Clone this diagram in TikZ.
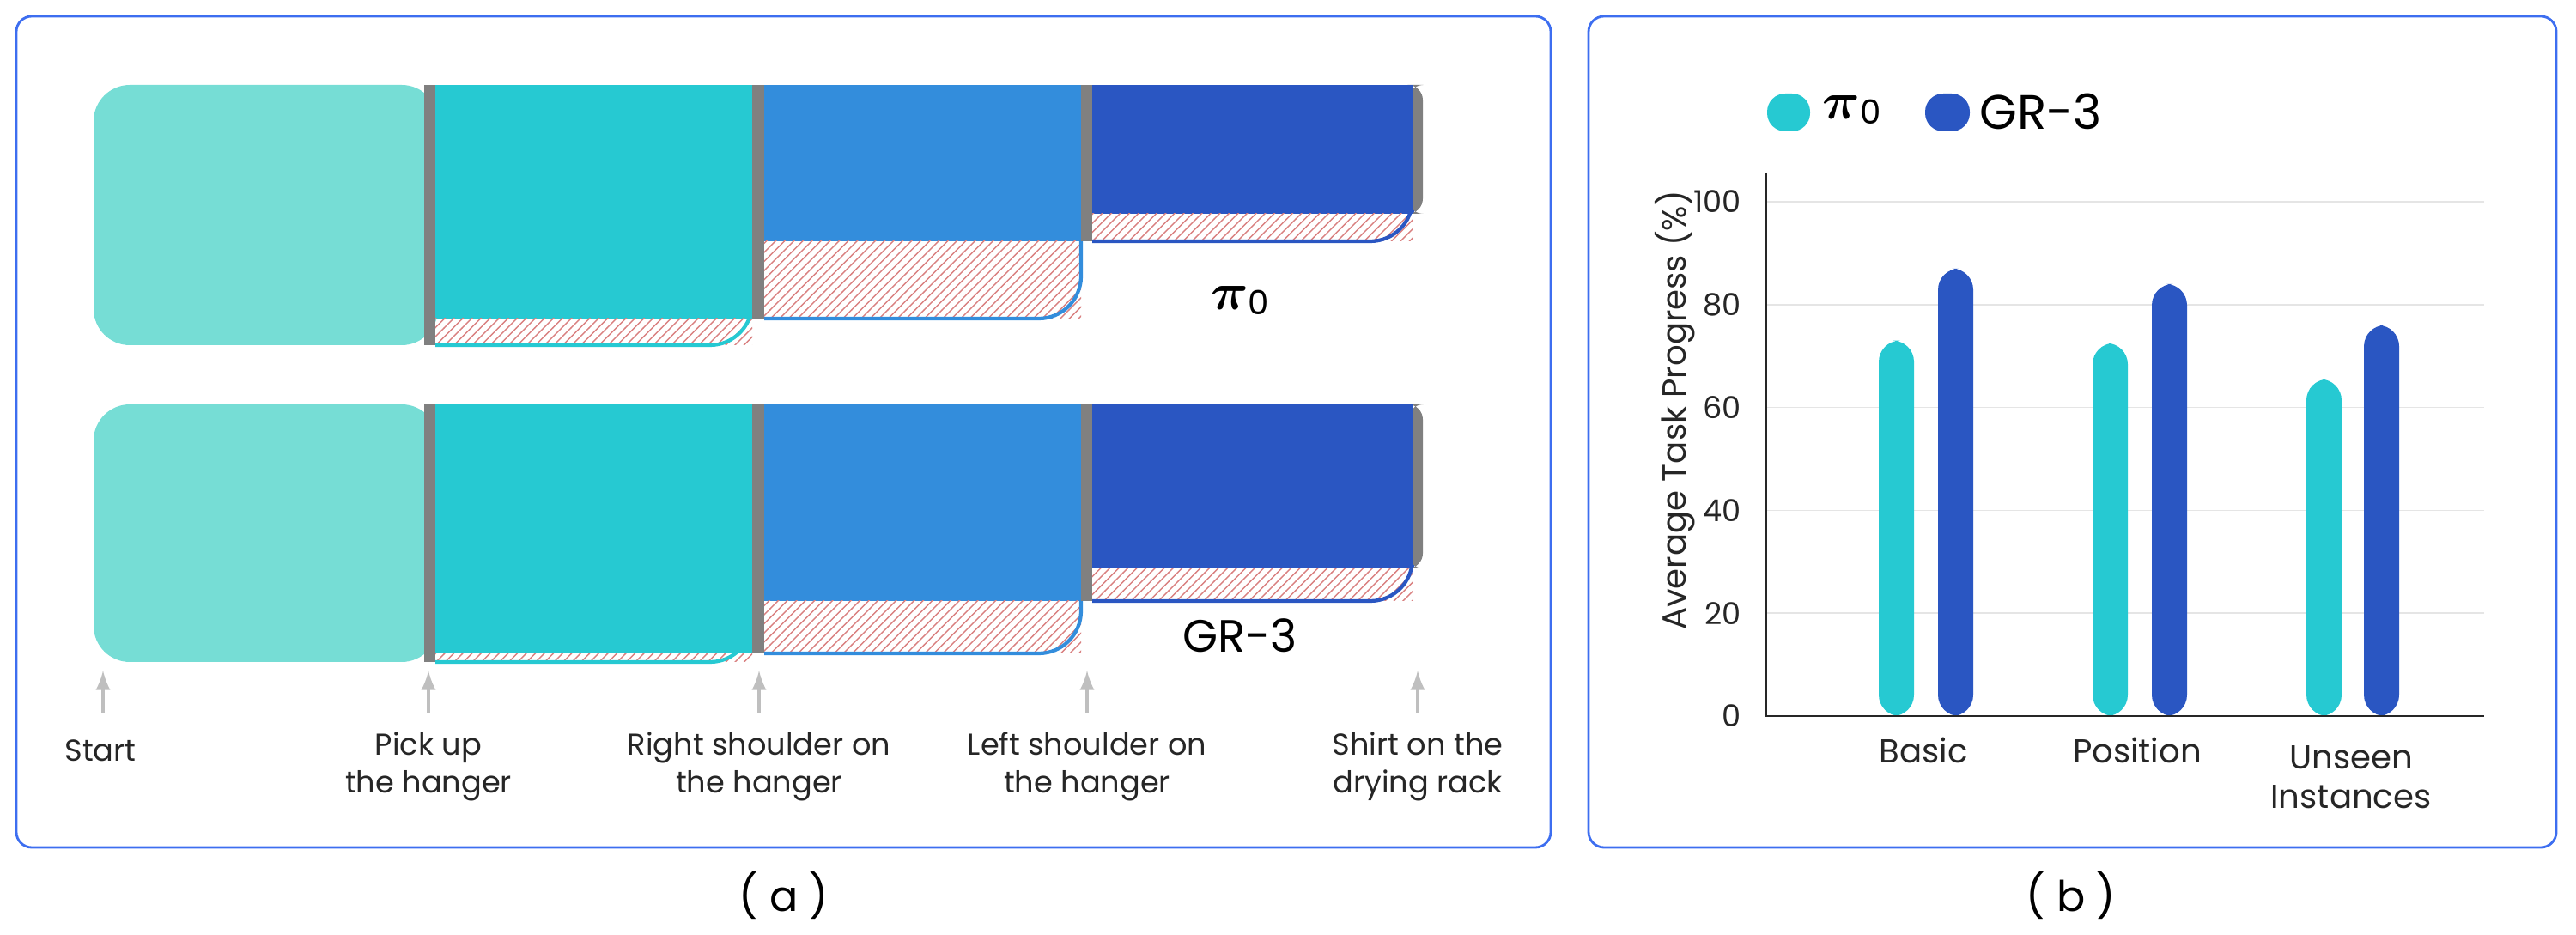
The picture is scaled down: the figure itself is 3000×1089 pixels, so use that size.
\documentclass[tikz,border=0pt]{standalone}
\usepackage{fontspec}
\setmainfont{Poppins}
\usetikzlibrary{patterns}
\definecolor{cA}{HTML}{76DDD5}
\definecolor{cB}{HTML}{26C9D2}
\definecolor{cC}{HTML}{338DDC}
\definecolor{cD}{HTML}{2A56C2}
\definecolor{frame}{HTML}{3D6EF0}
\definecolor{dv}{HTML}{808080}
\definecolor{hat}{HTML}{D98080}
\newcommand\hseg[6]{%
  \fill[#6] (#1,#3) rectangle (#2,#4);
  \fill[pattern=north east lines, pattern color=hat] (#1,#4) rectangle (#2,#5);
  \draw[#6, line width=1.2pt, rounded corners=14] (#1,#5) -- (#2,#5) -- (#2,#4);
}
\newcommand\chartbar[3]{\fill[#3, rounded corners=7] (#1,834) -- (#1,{834-5.99*#2}) -- ({#1+41},{834-5.99*#2}) -- ({#1+41},834) -- cycle;}
\begin{document}
\begin{tikzpicture}[x=0.01cm,y=-0.01cm,
  lab/.style={font=\fontsize{10}{12.5}\selectfont, align=center, text=black!85},
  tick/.style={font=\fontsize{10}{12}\selectfont, anchor=east, text=black!85},
  arr/.style={-latex, draw=black!25, line width=1.2pt},
  panel/.style={draw=frame, line width=0.8pt, rounded corners=0.18cm},
  grid/.style={draw=black!10, line width=0.5pt}]
\useasboundingbox (0,0) rectangle (3000,1089);
% panels
\draw[panel] (19,19) rectangle (1806,987);
\draw[panel] (1850,19) rectangle (2977,987);
\node[font=\fontsize{14}{16}\selectfont] (la) at (913,1043) {( a )};
\node[font=\fontsize{14}{16}\selectfont] (lb) at (2412,1043) {( b )};
% ---- top row (pi0)
\fill[cA, rounded corners=12] (109,99) rectangle (510,402);
\hseg{507}{876}{99}{371}{402}{cB}
\hseg{890}{1259}{99}{281}{371}{cC}
\hseg{1272}{1645}{99}{249}{281}{cD}
\fill[dv] (494,99) rectangle (507,402);
\fill[dv] (876,99) rectangle (890,371);
\fill[dv] (1259,99) rectangle (1272,281);
\fill[dv, rounded corners=5] (1640,99) -- (1657,99) -- (1657,249) -- (1640,249) -- cycle;
\fill[cD] (1638,99) rectangle (1645,249);
\node[font=\fontsize{17}{20}\selectfont] (p0) at (1444,350) {{\boldmath$\pi$}\raisebox{-0.2ex}{\fontsize{11}{12}\selectfont 0}};
% ---- bottom row (GR-3)
\fill[cA, rounded corners=12] (109,471) rectangle (510,771);
\hseg{507}{876}{471}{761}{771}{cB}
\hseg{890}{1259}{471}{700}{761}{cC}
\hseg{1272}{1645}{471}{662}{700}{cD}
\fill[dv] (494,471) rectangle (507,771);
\fill[dv] (876,471) rectangle (890,761);
\fill[dv] (1259,471) rectangle (1272,700);
\fill[dv, rounded corners=5] (1640,471) -- (1657,471) -- (1657,662) -- (1640,662) -- cycle;
\fill[cD] (1638,471) rectangle (1645,662);
\node[font=\fontsize{15}{18}\selectfont] (g3) at (1444,740) {GR-3};
% arrows and stage labels
\foreach \x/\n in {120/s1,499/s2,884/s3,1266/s4,1651/s5}{
  \coordinate (\n b) at (\x,830); \coordinate (\n t) at (\x,781);
  \draw[arr] (\n b) -- (\n t);}
\node[lab] (t1) at (117,874) {Start};
\node[lab] (t2) at (499,893) {Pick up\\the hanger};
\node[lab] (t3) at (884,893) {Right shoulder on\\the hanger};
\node[lab] (t4) at (1266,893) {Left shoulder on\\the hanger};
\node[lab] (t5) at (1651,893) {Shirt on the\\drying rack};
% ---- chart
\foreach \v in {20,40,60,80,100}{\draw[grid] (2057,{834-5.99*\v}) -- (2893,{834-5.99*\v});}
\foreach \v in {0,20,40,60,80,100}{\node[tick] (y\v) at (2040,{834-5.99*\v}) {\v};}
\chartbar{2188}{73}{cB}
\chartbar{2257}{87}{cD}
\chartbar{2437}{72.5}{cB}
\chartbar{2506}{84}{cD}
\chartbar{2686}{65.5}{cB}
\chartbar{2753}{76}{cD}
\coordinate (ot) at (2057,201); \coordinate (o) at (2057,834); \coordinate (xe) at (2893,834);
\draw[black!85, line width=0.7pt] (ot) -- (o) -- (xe);
\node[lab, font=\fontsize{11}{13}\selectfont] (c1) at (2240,874) {Basic};
\node[lab, font=\fontsize{11}{13}\selectfont] (c2) at (2489,874) {Position};
\node[lab, font=\fontsize{11}{13}\selectfont, anchor=north] (c3) at (2738,856) {Unseen\\Instances};
\node[lab, font=\fontsize{11}{13}\selectfont, rotate=90] (yl) at (1951,478) {Average Task Progress (\%)};
% legend
\fill[cB, rounded corners=6] (2058,109) rectangle (2108,153);
\fill[cD, rounded corners=6] (2242,109) rectangle (2294,153);
\node[anchor=west, font=\fontsize{17}{20}\selectfont, inner sep=0] (lg1) at (2122,128) {{\boldmath$\pi$}\raisebox{-0.2ex}{\fontsize{11}{12}\selectfont 0}};
\node[anchor=west, font=\fontsize{16}{19}\selectfont, inner sep=0] (lg2) at (2305,130) {GR-3};
\end{tikzpicture}
\end{document}
